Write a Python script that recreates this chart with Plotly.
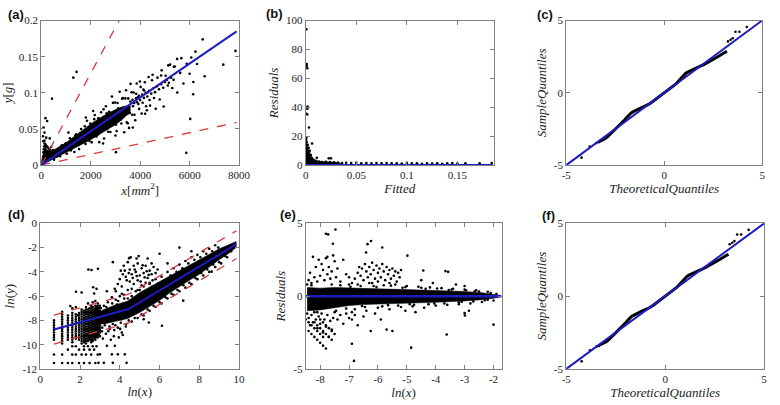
import plotly.graph_objects as go

# ---------------- DATA ----------------
# (a) y[g] vs x[mm^2]
a_points = [
    # near the origin
    (60,0.004),(80,0.012),(90,0.018),(100,0.022),(110,0.008),(120,0.026),(130,0.015),(140,0.030),(150,0.020),(160,0.012),
    (170,0.024),(180,0.028),(190,0.017),(200,0.021),(210,0.010),(230,0.026),(250,0.014),(260,0.019),(280,0.024),(300,0.012),
    (320,0.017),(340,0.022),(360,0.009),(380,0.015),(400,0.025),(420,0.011),(450,0.018),(470,0.021),(500,0.013),
    (70,0.040),(95,0.052),(130,0.045),(172,0.065),(238,0.061),(132,0.034),(344,0.037),(437,0.092),(80,0.033),(200,0.038),
    # main cloud
    (520,0.0075),(585,0.0182),(640,0.0121),(715,0.0192),(760,0.0124),(830,0.0276),(905,0.0195),(950,0.0276),(1030,0.0159),
    (1085,0.0274),(1160,0.0372),(1215,0.0216),(1290,0.0362),(1340,0.0182),(1410,0.0426),(1475,0.0300),(1530,0.0222),
    (1610,0.0501),(1650,0.0313),(1735,0.0467),(1790,0.0293),(1850,0.0615),(1925,0.0414),(1985,0.0576),(2040,0.0315),
    (2110,0.0533),(2165,0.0694),(2230,0.0397),(2300,0.0646),(2345,0.0318),(2420,0.0731),(2490,0.0507),(2540,0.0369),
    (2615,0.0814),(2670,0.0506),(2740,0.0737),(2795,0.0458),(2860,0.0950),(2935,0.0632),(2985,0.0866),(3050,0.0471),
    (3115,0.0787),(3170,0.1016),(3240,0.0576),(3300,0.0927),(3355,0.0455),(3430,0.1035),(3480,0.0708),(3550,0.0515),
    (3610,0.1124),(3680,0.0698),(3735,0.1005),(3800,0.0622),(3860,0.1129),(3925,0.0845),(3990,0.1158),(4060,0.0713),
    (4130,0.1044),(4190,0.1147),(4270,0.0759),(4340,0.1219),(4400,0.0824),(4480,0.1174),(4560,0.0928),(4630,0.0780),
    (4700,0.1210),(4790,0.0908),(4870,0.1311),(4950,0.0811),(5030,0.1236),(5120,0.1102),(5210,0.1390),(5300,0.1067),
    (5400,0.1365),(5500,0.1004),(5620,0.1276),(5750,0.1130),(5880,0.1403),(6000,0.1264),(6150,0.1151),(6300,0.1400),
    (450,0.0118),(555,0.0112),(610,0.0181),(690,0.0152),(740,0.0137),(800,0.0223),(870,0.0210),(930,0.0183),(990,0.0303),
    (1060,0.0223),(1120,0.0304),(1190,0.0203),(1250,0.0328),(1315,0.0265),(1380,0.0410),(1440,0.0317),(1505,0.0278),
    (1570,0.0437),(1630,0.0393),(1700,0.0334),(1760,0.0539),(1820,0.0383),(1890,0.0513),(1950,0.0333),(2010,0.0527),
    (2070,0.0417),(2140,0.0636),(2200,0.0484),(2270,0.0420),(2325,0.0647),(2390,0.0576),(2455,0.0483),(2520,0.0772),
    (2580,0.0543),(2645,0.0718),(2705,0.0462),(2770,0.0726),(2830,0.0569),(2900,0.0862),(2960,0.0651),(3020,0.0558),
    (3085,0.0859),(3140,0.0757),(3210,0.0631),(3270,0.0918),(3330,0.0701),(3400,0.0923),(3460,0.0591),(3520,0.0923),
    (3580,0.0720),(3650,0.1008),(3710,0.0816),(3770,0.0697),(3840,0.0988),(3900,0.0940),(3960,0.0778),(4020,0.1082),
    (4100,0.0863),(4160,0.1032),(4240,0.0814),(4310,0.1009),(4380,0.0902),
    (3600,0.0880),(3690,0.0905),(3760,0.0860),(3830,0.0925),(3880,0.0870),(3950,0.0960),(4000,0.0900),(4080,0.0975),
    (4150,0.0930),(4220,0.1000),(4290,0.0950),(4360,0.1030),(4450,0.0990),(4520,0.1060),(4600,0.1010),(4680,0.1090),
    (4760,0.1050),(4850,0.1120),(4930,0.1070),(5000,0.1150),(5080,0.1180),(5160,0.1140),(5250,0.1210),(5350,0.1180),
    # outliers
    (7853,0.158),(7361,0.139),(6528,0.174),(6236,0.157),(6064,0.149),(6607,0.123),(6143,0.098),(6024,0.064),(5865,0.017),
    (5667,0.148),(5495,0.147),(5362,0.136),(5137,0.138),(4846,0.124),(4502,0.125),(1297,0.121),(1430,0.129),(3000,0.041),
    (3500,0.058),(2500,0.030),(4200,0.071),(1800,0.066),(2100,0.075),(1100,0.045),(3700,0.052),(3020,0.018),
]
a_x = [p[0] for p in a_points]
a_y = [p[1] for p in a_points]
a_core_x = [0, 100, 200, 500, 1000, 1500, 2000, 2500, 3000, 3300, 3600]
a_core_lo = [0.0, 0.001, 0.003, 0.008, 0.0175, 0.0263, 0.035, 0.045, 0.056, 0.064, 0.074]
a_core_hi = [0.005, 0.018, 0.020, 0.021, 0.031, 0.044, 0.057, 0.068, 0.077, 0.081, 0.083]
a_fit_x = [0, 7900]
a_fit_y = [0.0, 0.185]
a_upper_x = [0, 3150]
a_upper_y = [0.0, 0.2]
a_lower_x = [0, 7900]
a_lower_y = [0.0, 0.059]

# (b) Residuals vs Fitted
b_points = [
    (0.0006,94),(0.0010,70),(0.0010,68.5),(0.0016,67),(0.0019,40.5),(0.0016,39),(0.0006,35.5),(0.0016,35),(0.0032,26),
    (0.0006,19),(0.0063,15),(0.011,5.1),(0.0228,4.7),(0.025,4.7),
    (0.0005,17.5),(0.001,16),(0.002,14),(0.003,12),(0.004,10),(0.005,7),(0.006,5),(0.007,4),(0.008,3.5),(0.010,3),
    (0.013,2.5),(0.016,2.2),(0.020,2.4),(0.024,2.1),(0.028,2.0),
    (0.032,1.8),(0.036,1.5),(0.040,1.7),(0.045,1.4),(0.050,1.6),(0.055,1.3),(0.060,1.5),(0.065,1.2),(0.070,1.4),(0.075,1.3),
    (0.080,1.5),(0.085,1.2),(0.090,1.3),(0.095,1.1),(0.100,1.4),(0.105,1.2),(0.110,1.3),(0.115,1.0),(0.120,1.2),(0.125,1.1),
    (0.130,1.3),(0.135,1.0),(0.140,1.2),(0.145,1.4),(0.150,1.1),(0.158,1.2),(0.172,1.3),(0.184,1.5),
]
b_x = [p[0] for p in b_points]
b_y = [p[1] for p in b_points]
b_core_x = [0.0, 0.0005, 0.0015, 0.003, 0.0045, 0.006, 0.008, 0.012, 0.02, 0.03, 0.035]
b_core_hi = [16, 17, 14, 11, 8, 5, 3.5, 2.8, 2.4, 2.0, 1.2]
b_fit_x = [0.0, 0.185]
b_fit_y = [0.0, 0.0]

# (c)/(f) QQ plot
qq_t = [-3.3,-3.2,-3.1,-3.0,-2.9,-2.8,-2.7,-2.6,-2.5,-2.4,-2.3,-2.2,-2.1,-2.0,-1.9,-1.8,-1.7,-1.6,-1.5,-1.4,-1.3,-1.2,-1.1,-1.0,
        -0.9,-0.8,-0.6,-0.4,-0.2,0.0,0.2,0.4,0.6,0.7,0.8,0.9,1.0,1.1,1.2,1.3,1.4,1.5,1.6,1.7,1.8,1.9,2.0,2.2,2.4,2.6,2.8,3.0,3.2]
qq_s = [-3.35,-3.3,-3.22,-3.15,-3.05,-2.92,-2.78,-2.62,-2.48,-2.37,-2.27,-2.15,-2.0,-1.84,-1.68,-1.52,-1.4,-1.32,-1.24,-1.16,
        -1.1,-1.05,-0.98,-0.92,-0.86,-0.8,-0.62,-0.42,-0.21,0.0,0.2,0.4,0.62,0.76,0.92,1.1,1.25,1.36,1.44,1.51,1.57,1.63,1.7,
        1.76,1.82,1.88,1.94,2.08,2.22,2.38,2.55,2.72,2.88]
qq_tail_t = [-4.22,-3.8,-3.47,-3.34,3.26,3.39,3.5,3.64,3.84,4.22]
qq_tail_s = [-4.48,-3.72,-3.47,-3.42,3.56,3.67,3.78,4.23,4.23,4.55]
qq_ref_x = [-5, 5]
qq_ref_y = [-5, 5]

# (d) ln(y) vs ln(x): discrete ln(x) columns, then the continuous cloud
d_columns = {
    0.69: [-8.0,-8.2,-8.4,-8.6,-8.8,-9.0,-9.2,-9.4,-9.6,-10.82,-11.51],
    1.10: [-7.3,-7.5,-7.7,-7.9,-8.1,-8.3,-8.5,-8.7,-8.9,-9.1,-9.3,-9.5,-9.7,-9.9,-10.82,-11.51],
    1.39: [-7.6,-7.8,-8.0,-8.2,-8.4,-8.6,-8.8,-9.0,-9.2,-9.4,-9.6,-10.41,-11.51],
    1.61: [-7.0,-7.4,-7.6,-7.8,-8.0,-8.2,-8.4,-8.6,-8.8,-9.0,-9.2,-9.4,-9.6,-9.8,-10.13,-10.82,-11.51],
    1.79: [-6.9,-7.5,-7.7,-7.9,-8.1,-8.3,-8.5,-8.7,-8.9,-9.1,-9.3,-9.5,-10.13,-10.82],
    1.95: [-7.4,-7.6,-7.8,-8.0,-8.2,-8.4,-8.6,-8.8,-9.0,-9.2,-9.4,-9.6,-10.41,-11.51],
    2.08: [-5.7,-7.1,-7.3,-7.5,-7.7,-7.9,-8.1,-8.3,-8.5,-8.7,-8.9,-9.1,-9.3,-9.5,-9.7,-9.9,-10.82],
    2.20: [-7.2,-7.4,-7.6,-7.8,-8.0,-8.2,-8.4,-8.6,-8.8,-9.0,-9.2,-9.4,-9.6,-9.8,-10.13,-10.41,-11.51],
    2.30: [-6.9,-7.1,-7.3,-7.5,-7.7,-7.9,-8.1,-8.3,-8.5,-8.7,-8.9,-9.1,-9.3,-9.5,-9.7,-9.9,-10.82],
    2.40: [-6.6,-7.1,-7.3,-7.5,-7.7,-7.9,-8.1,-8.3,-8.5,-8.7,-8.9,-9.1,-9.3,-9.5,-9.7,-10.13],
    2.48: [-7.0,-7.2,-7.4,-7.6,-7.8,-8.0,-8.2,-8.4,-8.6,-8.8,-9.0,-9.2,-9.4,-9.6,-10.41,-11.51],
    2.56: [-6.8,-7.0,-7.2,-7.4,-7.6,-7.8,-8.0,-8.2,-8.4,-8.6,-8.8,-9.0,-9.2,-9.4,-9.6,-9.8,-10.82],
    2.64: [-6.5,-6.9,-7.1,-7.3,-7.5,-7.7,-7.9,-8.1,-8.3,-8.5,-8.7,-8.9,-9.1,-9.3,-9.5,-9.7,-10.13],
    2.71: [-7.1,-7.3,-7.5,-7.7,-7.9,-8.1,-8.3,-8.5,-8.7,-8.9,-9.1,-9.3,-9.5,-10.41],
    2.77: [-6.4,-6.8,-7.0,-7.2,-7.4,-7.6,-7.8,-8.0,-8.2,-8.4,-8.6,-8.8,-9.0,-9.2,-9.4,-9.6,-11.51],
    2.83: [-5.4,-6.9,-7.1,-7.3,-7.5,-7.7,-7.9,-8.1,-8.3,-8.5,-8.7,-8.9,-9.1,-9.3,-10.13],
    2.89: [-6.6,-6.8,-7.0,-7.2,-7.4,-7.6,-7.8,-8.0,-8.2,-8.4,-8.6,-8.8,-9.0,-9.2,-9.4,-10.82],
    2.94: [-7.0,-7.2,-7.4,-7.6,-7.8,-8.0,-8.2,-8.4,-8.6,-8.8,-9.0,-9.2],
    3.00: [-6.8,-7.0,-7.2,-7.4,-7.6,-7.8,-8.0,-8.2,-8.4,-8.6,-8.8,-9.0,-9.3],
}
d_points = [
    (2.58,-3.84),(3.65,-3.2),(1.8,-5.64),(2.71,-5.78),(2.66,-5.27),(1.51,-6.81),(1.89,-7.57),(2.42,-3.8),(2.9,-3.75),
    (4.2,-3.5),(4.4,-3.2),(4.5,-3.8),(4.6,-4.2),(4.7,-3.5),(4.8,-4.0),(4.9,-3.3),(5.0,-4.3),(5.1,-3.7),(5.2,-4.1),(5.3,-3.5),
    (5.4,-4.5),(5.5,-3.9),(5.6,-4.2),(5.7,-3.6),(4.3,-4.4),(4.5,-4.8),(4.7,-5.0),(4.9,-4.7),(5.1,-5.1),(5.3,-4.9),(5.5,-5.0),
    (4.0,-4.6),(4.1,-5.2),(4.4,-5.5),(4.6,-5.4),(4.8,-5.6),(5.0,-5.5),(3.9,-5.0),(3.8,-5.6),(4.55,-2.8),(4.95,-2.7),(5.4,-2.9),
    (4.25,-3.9),(4.35,-4.7),(4.65,-4.5),(4.85,-4.35),(5.05,-4.8),(5.25,-4.45),(5.45,-4.25),(5.65,-4.7),(4.45,-4.1),(4.75,-3.8),
    (5.15,-3.45),(5.35,-3.95),(5.6,-3.3),(4.15,-4.2),(4.05,-3.9),(5.8,-4.1),(5.9,-3.8),
    (6.0,-2.5),(6.4,-3.3),(7.0,-2.0),(7.6,-2.3),(4.47,-2.87),(4.84,-2.9),(6.12,-8.44),(5.46,-8.17),(7.19,-6.37),(8.62,-3.98),(5.2,-7.9),
    (4.6,-6.0),(4.9,-5.5),(5.2,-5.2),(5.5,-4.9),(5.8,-4.6),(6.1,-4.4),(6.4,-4.0),(6.7,-3.7),(7.0,-3.4),(7.3,-3.1),(7.6,-2.8),
    (7.9,-2.6),(8.2,-2.3),(8.5,-2.1),(8.8,-1.8),
    (4.6,-8.1),(4.9,-7.8),(5.2,-7.6),(5.5,-7.2),(5.8,-6.9),(6.1,-6.6),(6.4,-6.2),(6.7,-5.9),(7.0,-5.6),(7.3,-5.3),(7.6,-5.0),
    (7.9,-4.6),(8.2,-4.3),(8.5,-4.0),(8.8,-3.6),(9.1,-3.3),(9.4,-2.8),
    (4.7,-6.3),(5.05,-5.9),(5.35,-5.6),(5.65,-5.2),(5.95,-4.95),(6.25,-4.7),(6.55,-4.3),(6.85,-4.0),(7.15,-3.7),(7.45,-3.3),
    (7.75,-3.0),(8.05,-2.8),(8.35,-2.5),(8.65,-2.3),(8.95,-2.0),(4.75,-7.8),(5.1,-7.5),(5.4,-7.1),(5.7,-6.8),(6.0,-6.5),(6.3,-6.1),
    (6.6,-5.8),(6.9,-5.5),(7.2,-5.1),(7.5,-4.9),(7.8,-4.5),(8.1,-4.1),(8.4,-3.8),(8.7,-3.4),(9.0,-3.2),(9.3,-2.7),(9.6,-2.3),
    (3.1,-8.9),(3.2,-6.8),(3.3,-9.1),(3.4,-6.5),(3.5,-8.7),(3.6,-6.1),(3.7,-9.3),(3.8,-6.3),(3.9,-8.6),(4.0,-6.0),
    (4.1,-9.0),(4.2,-5.9),(4.3,-8.5),(4.4,-6.2),(3.05,-7.0),(3.25,-8.4),(3.45,-7.1),(3.65,-8.3),(3.85,-6.7),(4.05,-8.2),(4.25,-6.6),
    (4.45,-8.0),(3.15,-9.5),(3.55,-9.6),(3.95,-9.4),(4.15,-9.2),(3.35,-10.1),(3.75,-10.1),(3.6,-10.8),(3.2,-11.5),(3.65,-11.5),
    (4.34,-11.5),(3.9,-10.8),(4.25,-10.8),(3.0,-10.8),(2.93,-11.5),(3.35,-5.6),(3.75,-5.4),(4.1,-5.8),
    (3.12,-8.6),(3.28,-7.5),(3.42,-8.9),(3.58,-7.3),(3.72,-8.8),(3.88,-7.1),(4.02,-8.7),(4.18,-7.0),(4.32,-8.3),(3.18,-8.2),
    (3.48,-8.5),(3.78,-8.4),(4.08,-7.9),(4.38,-7.6),(3.32,-6.9),(3.62,-6.6),(3.92,-6.4),(4.22,-6.2),
]
d_x = [p[0] for p in d_points] + [k for k, v in d_columns.items() for _ in v]
d_y = [p[1] for p in d_points] + [y for v in d_columns.values() for y in v]
d_core_x = [2.8, 3.2, 3.8, 4.4, 5.0, 5.5, 6.0, 6.5, 7.0, 7.5, 8.0, 8.5, 9.0, 9.5, 9.85]
d_core_hi = [-7.5, -7.1, -6.7, -6.4, -5.7, -5.25, -4.85, -4.35, -3.9, -3.45, -3.0, -2.55, -2.1, -1.75, -1.5]
d_core_lo = [-8.3, -8.3, -8.1, -7.85, -7.35, -6.85, -6.35, -5.75, -5.2, -4.7, -4.2, -3.6, -3.0, -2.45, -2.0]
d_fit_x = [0.69, 4.44, 9.87]
d_fit_y = [-8.75, -7.06, -1.72]
d_up_y = [-7.56, -5.84, -0.61]
d_lo_y = [-9.95, -8.2, -2.9]

# (e) Residuals vs ln(x)
e_points = [
    (-6.8,1.2),(-6.7,1.6),(-6.65,2.0),(-6.6,1.4),(-6.55,1.9),(-6.5,1.1),(-6.45,2.2),(-6.4,1.7),(-6.35,1.3),(-6.3,2.0),
    (-6.25,1.5),(-6.2,2.3),(-6.15,1.8),(-6.1,1.2),(-6.05,2.1),(-6.0,1.6),(-5.95,1.9),(-5.9,1.3),(-5.85,2.2),(-5.8,1.7),
    (-5.75,1.1),(-5.7,2.0),(-5.65,1.5),(-5.6,1.8),(-5.55,1.2),(-5.5,1.9),(-5.45,1.4),(-5.4,1.7),(-5.35,1.0),(-5.3,1.6),
    (-5.25,1.3),(-5.2,1.8),(-6.9,0.9),(-7.0,1.3),(-6.0,1.0),(-5.6,0.9),(-6.3,0.9),
    (-8.45,0.8),(-8.4,1.1),(-8.35,1.6),(-8.3,0.9),(-8.25,2.7),(-8.2,1.3),(-8.15,2.0),(-8.1,1.0),(-8.05,2.5),(-8.0,1.4),
    (-7.95,2.2),(-7.9,1.8),(-7.85,1.1),(-7.8,2.6),(-7.75,1.5),(-7.7,2.0),(-7.65,1.2),(-7.6,1.7),(-7.5,2.4),(-7.45,1.3),
    (-7.4,1.9),(-7.3,1.0),(-7.2,2.5),(-7.1,1.5),(-7.55,2.8),(-7.75,2.7),
    (-8.45,-1.2),(-8.4,-1.5),(-8.35,-2.0),(-8.3,-1.3),(-8.25,-1.8),(-8.2,-1.1),(-8.15,-1.6),(-8.1,-2.2),(-8.05,-1.4),(-8.0,-1.9),
    (-7.95,-1.2),(-7.9,-2.5),(-7.85,-1.6),(-7.8,-2.1),(-7.75,-1.3),(-7.7,-2.8),(-7.65,-1.7),(-7.6,-2.3),(-7.55,-1.5),(-7.5,-1.1),
    (-7.4,-1.6),(-7.3,-1.3),(-7.2,-1.9),(-7.1,-1.2),(-7.0,-1.5),(-6.9,-1.1),(-6.8,-1.3),
    (-8.5,-1.6),(-8.4,-1.8),(-8.3,-2.0),(-8.2,-2.2),(-8.1,-2.4),(-8.0,-2.6),(-7.9,-2.8),
    (-8.4,-2.4),(-8.3,-2.6),(-8.2,-2.8),(-8.1,-3.0),(-8.0,-3.2),(-7.9,-3.4),(-7.8,-3.6),
    (-8.2,-1.8),(-8.1,-2.0),(-8.0,-2.2),(-7.9,-2.4),(-7.8,-2.6),(-7.7,-2.8),(-7.6,-3.0),
    (-8.0,-1.6),(-7.9,-1.8),(-7.8,-2.0),(-7.7,-2.2),(-7.6,-2.4),(-7.5,-2.6),
    (-7.0,0.8),(-6.8,-0.9),(-6.6,0.7),(-6.4,-1.0),(-6.2,0.9),(-6.0,-0.8),(-5.8,0.75),(-5.6,-0.9),(-5.4,0.8),(-5.2,-0.75),
    (-5.0,0.7),(-4.8,-0.7),(-4.6,0.65),(-4.4,-0.8),(-4.2,0.6),(-4.0,-0.65),(-3.8,0.55),(-3.6,-0.6),(-3.4,0.5),(-3.2,-0.55),
    (-3.0,0.45),(-2.8,-0.5),(-2.6,0.4),(-2.4,-0.4),(-2.2,0.3),(-2.0,-0.3),(-1.9,0.15),(-6.9,-1.6),(-6.5,-1.4),(-6.1,-1.2),
    (-5.7,-2.3),(-5.5,-2.4),(-6.25,-2.4),(-5.05,-1.0),(-4.5,1.1),(-4.1,0.9),(-3.3,0.8),(-3.0,0.7),(-2.85,-1.0),(-4.7,-1.1),
    (-5.9,-1.6),(-6.7,-2.0),
    (-7.3,0.75),(-7.1,-0.85),(-6.7,0.8),(-6.45,-0.75),(-6.15,0.7),(-5.85,-0.7),(-5.55,0.72),(-5.3,-0.65),(-5.05,0.62),
    (-4.75,-0.6),(-4.5,0.58),(-4.25,-0.55),(-3.95,0.52),(-3.7,-0.5),(-3.45,0.45),(-3.2,-0.42),(-2.95,0.4),(-2.7,-0.36),
    (-2.5,0.32),(-2.3,-0.28),(-2.1,0.22),(-6.95,0.65),(-6.55,-0.68),(-6.05,0.62),(-5.65,-0.62),(-5.15,0.58),(-4.9,-0.55),
    (-4.35,0.5),(-4.05,-0.5),(-3.55,0.42),(-3.1,-0.38),(-2.65,0.34),(-2.2,-0.25),(-7.45,-1.0),(-7.6,0.8),(-8.3,0.75),(-8.1,-1.1),
    # outliers
    (-7.8,4.29),(-7.72,4.24),(-7.47,4.58),(-7.56,3.6),(-6.36,3.57),(-6.24,3.79),(-6.41,3.0),(-5.85,3.34),(-4.98,2.78),
    (-6.83,-4.45),(-6.9,-3.27),(-4.85,-3.54),(-3.62,-2.64),(-2.0,-1.96),(-3.0,-1.17),(-2.99,-1.33),(-3.66,1.72),(-3.57,1.67),(-4.43,1.76),
]
e_x = [p[0] for p in e_points]
e_y = [p[1] for p in e_points]
e_core_x = [-8.45, -8.0, -7.5, -7.0, -6.5, -6.0, -5.0, -4.0, -3.0, -2.4, -2.0, -1.75]
e_core_hi = [0.6, 0.55, 0.6, 0.55, 0.55, 0.5, 0.45, 0.4, 0.32, 0.24, 0.15, 0.05]
e_core_lo = [-1.0, -0.95, -0.8, -0.65, -0.58, -0.52, -0.48, -0.42, -0.33, -0.24, -0.15, -0.05]
e_fit_x = [-8.5, -1.72]
e_fit_y = [0, 0]

# ---------------- FIGURE ----------------
W, H = 780, 405
BLUE = "#1c1cc0"
RED = "#d8393c"
AX = "#808080"
SERIF = "Times New Roman, Liberation Serif, DejaVu Serif, serif"

fig = go.Figure()

def add(tr, k):
    suffix = "" if k == 1 else str(k)
    tr.update(xaxis="x" + suffix, yaxis="y" + suffix, showlegend=False, hoverinfo="skip")
    fig.add_trace(tr)

def band(xs, lo, hi, k):
    add(go.Scatter(x=xs + xs[::-1], y=hi + lo[::-1], fill="toself", fillcolor="black",
                   mode="lines", line=dict(width=0.5, color="black")), k)

def dots(xs, ys, k, size=2.6):
    add(go.Scatter(x=xs, y=ys, mode="markers", marker=dict(size=size, color="black", line=dict(width=0))), k)

def line(xs, ys, k, color, width, dash="solid"):
    add(go.Scatter(x=xs, y=ys, mode="lines", line=dict(color=color, width=width, dash=dash)), k)

# (a)
band(a_core_x, a_core_lo, a_core_hi, 1)
dots(a_x, a_y, 1)
line(a_upper_x, a_upper_y, 1, RED, 1.3, "dash")
line(a_lower_x, a_lower_y, 1, RED, 1.3, "dash")
line(a_fit_x, a_fit_y, 1, BLUE, 2)
# (b)
band(b_core_x, [0] * len(b_core_x), b_core_hi, 2)
dots(b_x, b_y, 2)
line(b_fit_x, b_fit_y, 2, BLUE, 2.5)
# (c)
line(qq_t, qq_s, 3, "black", 3)
dots(qq_tail_t, qq_tail_s, 3)
line(qq_ref_x, qq_ref_y, 3, BLUE, 2)
# (d)
band(d_core_x, d_core_lo, d_core_hi, 4)
dots(d_x, d_y, 4)
line(d_fit_x, d_up_y, 4, RED, 1.3, "dash")
line(d_fit_x, d_lo_y, 4, RED, 1.3, "dash")
line(d_fit_x, d_fit_y, 4, BLUE, 2)
# (e)
band(e_core_x, e_core_lo, e_core_hi, 5)
dots(e_x, e_y, 5)
line(e_fit_x, e_fit_y, 5, BLUE, 2.5)
# (f)
line(qq_t, qq_s, 6, "black", 3)
dots(qq_tail_t, qq_tail_s, 6)
line(qq_ref_x, qq_ref_y, 6, BLUE, 2)

def dom_x(l, r):
    return [l / W, r / W]

def dom_y(t, b):
    return [1 - b / H, 1 - t / H]

base = dict(showline=True, linecolor=AX, linewidth=1, mirror="ticks", ticks="inside", ticklen=4,
            tickcolor=AX, showgrid=False, zeroline=False,
            tickfont=dict(family=SERIF, size=11, color="#222"))

def tt(vals):
    return dict(tickmode="array", tickvals=vals, ticktext=["%g" % v for v in vals])

def ttl(text, standoff):
    return dict(text=text, font=dict(family=SERIF, size=13, color="#222"), standoff=standoff)

row1 = dom_y(15, 164)
row2 = dom_y(224, 374)

axes = {
    1: (dom_x(37, 239), row1, [0, 8000], [0, 0.2], [0, 2000, 4000, 6000, 8000], [0, 0.05, 0.1, 0.15, 0.2],
        "<i>x</i>[<i>mm</i><sup>2</sup>]", "<i>y</i>[<i>g</i>]"),
    2: (dom_x(307, 499), row1, [0, 0.186], [0, 100], [0, 0.05, 0.1, 0.15], [0, 20, 40, 60, 80, 100],
        "<i>Fitted</i>", "<i>Residuals</i>"),
    3: (dom_x(573, 773), row1, [-5, 5], [-5, 5], [-5, 0, 5], [-5, 0, 5],
        "<i>TheoreticalQuantiles</i>", "<i>SampleQuantiles</i>"),
    4: (dom_x(36, 239), row2, [0, 10], [-12, 0], [0, 2, 4, 6, 8, 10], [-12, -10, -8, -6, -4, -2, 0],
        "<i>ln</i>(<i>x</i>)", "<i>ln</i>(<i>y</i>)"),
    5: (dom_x(307, 507), row2, [-8.5, -1.72], [-5, 5], [-8, -7, -6, -5, -4, -3, -2], [-5, 0, 5],
        "<i>ln</i>(<i>x</i>)", "<i>Residuals</i>"),
    6: (dom_x(573, 775), row2, [-5, 5], [-5, 5], [-5, 0, 5], [-5, 0, 5],
        "<i>TheoreticalQuantiles</i>", "<i>SampleQuantiles</i>"),
}

layout = dict(width=W, height=H, margin=dict(l=0, r=0, t=0, b=0),
              paper_bgcolor="white", plot_bgcolor="white", showlegend=False)
for k, (dx, dy, rx, ry, tx, ty, xt, yt) in axes.items():
    s = "" if k == 1 else str(k)
    layout["xaxis" + s] = dict(base, domain=dx, range=rx, anchor="y" + s, title=ttl(xt, 2), **tt(tx))
    layout["yaxis" + s] = dict(base, domain=dy, range=ry, anchor="x" + s, title=ttl(yt, 4), **tt(ty))

labels = [("(a)", 1, 9), ("(b)", 264, 8), ("(c)", 541, 9), ("(d)", 1, 215), ("(e)", 279, 215), ("(f)", 546, 216)]
layout["annotations"] = [
    dict(text="<b>%s</b>" % t, x=px / W, y=1 - py / H, xref="paper", yref="paper", xanchor="left",
         yanchor="middle", showarrow=False, font=dict(family="Liberation Sans, Arial, sans-serif", size=13, color="#111"))
    for t, px, py in labels
]
fig.update_layout(**layout)
fig.write_html("out.html")
